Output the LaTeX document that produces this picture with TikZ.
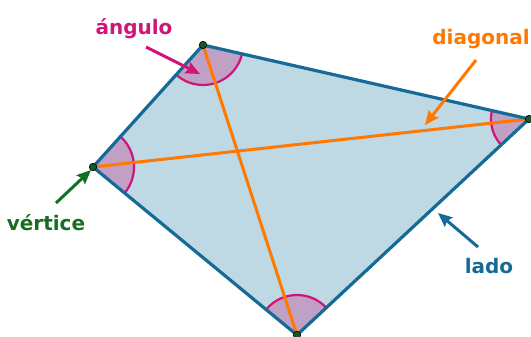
\documentclass[tikz,border=0pt]{standalone}
\usepackage{fontspec}
\setmainfont{DejaVu Sans}
\usetikzlibrary{arrows.meta}
\definecolor{quadfill}{RGB}{190,216,228}
\definecolor{edgeblue}{RGB}{22,106,150}
\definecolor{angfill}{RGB}{192,160,196}
\definecolor{magen}{RGB}{210,20,120}
\definecolor{orng}{RGB}{255,120,0}
\definecolor{grn}{RGB}{22,110,32}
\definecolor{dotgrn}{RGB}{20,90,40}
\tikzset{
  lbl/.style={font=\fontsize{20}{24}\selectfont\bfseries, inner sep=0pt, anchor=base},
  pointer/.style={line width=3pt, -{Stealth[length=14pt,width=12pt,inset=2pt]}},
  edgeline/.style={draw=edgeblue, line width=3.2pt, line join=round},
  diag/.style={draw=orng, line width=3pt},
  vdot/.style={circle, fill=dotgrn, draw=black, line width=0.6pt, minimum size=7.5pt, inner sep=0pt}
}
\begin{document}
\begin{tikzpicture}[x=1pt,y=-1pt]
\useasboundingbox (0,0) rectangle (531,337);
\coordinate (A) at (203,45);
\coordinate (B) at (529,119);
\coordinate (C) at (297,335);
\coordinate (D) at (93,167);
% quadrilateral fill
\fill[quadfill] (A) -- (B) -- (C) -- (D) -- cycle;
% angle sectors
\begin{scope}
  \clip (A) -- (B) -- (C) -- (D) -- cycle;
  \foreach \v/\r in {A/40,B/38,C/40,D/41}{
    \fill[angfill] (\v) circle[radius=\r];
    \draw[magen, line width=2.2pt] (\v) circle[radius=\r];
  }
\end{scope}
% diagonals
\draw[diag] (A) -- (C);
\draw[diag] (D) -- (B);
% edges
\draw[edgeline] (A) -- (B) -- (C) -- (D) -- cycle;
% vertex dots
\node[vdot] (vA) at (A) {};
\node[vdot] (vB) at (B) {};
\node[vdot] (vC) at (C) {};
\node[vdot] (vD) at (D) {};
% labels
\node[lbl, text=magen] (langulo) at (134,35) {ángulo};
\node[lbl, text=orng] (ldiag) at (481,45) {diagonal};
\node[lbl, text=grn] (lvert) at (46,230) {vértice};
\node[lbl, text=edgeblue] (llado) at (489,273) {lado};
% pointer arrows
\coordinate (angS) at (146,47);
\coordinate (angT) at (200,74);
\coordinate (diaS) at (476,60);
\coordinate (diaT) at (425,125);
\coordinate (verS) at (56,203);
\coordinate (verT) at (91,170);
\coordinate (ladS) at (478,247);
\coordinate (ladT) at (438,213);
\draw[pointer, magen] (angS) -- (angT);
\draw[pointer, orng] (diaS) -- (diaT);
\draw[pointer, grn] (verS) -- (verT);
\draw[pointer, edgeblue] (ladS) -- (ladT);
\end{tikzpicture}
\end{document}
